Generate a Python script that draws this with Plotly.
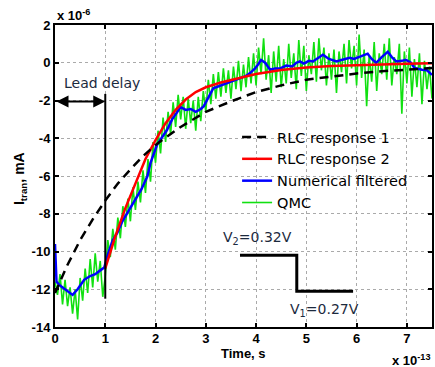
import plotly.graph_objects as go

# ---- data (time in units of 1e-13 s, current in units of 1e-6 mA) ----
rlc1_t = [0.0, 0.25, 0.5, 0.75, 1.0, 1.25, 1.5, 1.75, 2.0, 2.5, 3.0, 3.5, 4.0, 4.5, 5.0, 5.5, 6.0, 6.5, 7.0, 7.5]
rlc1_v = [-12.2, -10.7, -9.4, -8.3, -7.3, -6.4, -5.65, -4.95, -4.35, -3.4, -2.6, -2.05, -1.55, -1.2, -0.9, -0.72, -0.57, -0.45, -0.36, -0.28]

rlc2_t = [1.0, 1.2, 1.4, 1.6, 1.8, 2.0, 2.2, 2.4, 2.6, 2.8, 3.0, 3.3, 3.6, 4.0, 4.5, 5.0, 5.5, 6.0, 6.5, 7.0, 7.5]
rlc2_v = [-10.9, -9.2, -7.7, -6.4, -5.1, -4.1, -3.2, -2.5, -1.95, -1.55, -1.3, -1.05, -0.85, -0.6, -0.38, -0.25, -0.17, -0.12, -0.08, -0.05, -0.03]

num_t = [0.0, 0.03, 0.1, 0.2, 0.35, 0.45, 0.58, 0.7, 0.8, 0.9, 0.98, 1.07, 1.15, 1.24, 1.34, 1.44, 1.54, 1.64, 1.72, 1.84,
         1.9, 2.03, 2.13, 2.23, 2.33, 2.43, 2.5, 2.6, 2.7, 2.8, 2.9, 2.96, 3.02, 3.1, 3.15, 3.25, 3.42, 3.55, 3.68, 3.8,
         3.88, 3.98, 4.05, 4.1, 4.18, 4.28, 4.38, 4.48, 4.6, 4.72, 4.8, 4.87, 4.95, 5.05, 5.13, 5.2, 5.33, 5.45, 5.6, 5.7,
         5.86, 5.95, 6.05, 6.22, 6.3, 6.39, 6.5, 6.62, 6.7, 6.79, 6.9, 6.98, 7.08, 7.15, 7.3, 7.4, 7.5]
num_v = [-9.6, -11.6, -11.8, -12.0, -12.3, -12.0, -11.5, -11.3, -11.2, -11.0, -10.85, -10.0, -9.4, -9.0, -8.4, -7.95, -7.5, -7.1, -6.7, -6.0,
         -5.3, -4.35, -3.95, -3.55, -3.0, -2.58, -2.35, -2.5, -2.45, -2.6, -2.45, -2.3, -1.96, -1.6, -1.35, -1.25, -1.07, -0.95, -0.8, -0.7,
         -0.55, -0.3, -0.05, 0.15, 0.0, -0.37, -0.3, -0.3, -0.15, -0.2, 0.0, 0.07, -0.05, 0.1, 0.07, 0.2, 0.42, 0.2, 0.07, 0.15,
         0.26, 0.2, 0.3, 0.48, 0.2, 0.0, 0.3, 0.58, 0.3, 0.07, 0.1, 0.16, 0.0, -0.27, -0.37, -0.4, -0.64]

qmc_v = [-11.6, -12.3, -11.2, -12.8, -11.5, -12.9, -11.9, -13.3, -12.0, -13.6,
         -11.4, -12.6, -10.9, -12.2, -10.4, -11.9, -10.1, -11.6, -10.5, -12.4,
         -11.3, -9.4, -10.3, -8.8, -9.9, -8.2, -9.3, -7.6, -8.7, -7.2,
         -8.4, -6.6, -7.8, -6.3, -7.4, -5.7, -6.9, -5.1, -6.3, -4.2,
         -5.3, -3.6, -4.8, -2.9, -4.2, -2.6, -3.8, -2.1, -3.4, -1.7,
         -3.0, -1.8, -3.5, -1.9, -3.2, -2.0, -3.6, -1.8, -3.1, -1.5,
         -2.6, -0.9, -2.2, -0.6, -1.9, -0.5, -1.8, -0.3, -1.6, -0.4,
         -1.9, -0.2, -1.4, 0.1, -1.5, -0.1, -1.3, 0.3, -1.1, 0.5,
         -1.2, 0.8, -0.6, 1.3, -0.9, 0.4, -1.6, 0.6, -1.0, 0.9,
         -1.3, 0.2, -1.1, 1.0, -0.8, 0.5, -1.4, 1.2, -0.7, 0.9,
         -1.5, 0.4, -0.6, 1.1, -1.0, 1.3, -0.4, 0.8, -1.2, 0.5,
         -0.9, 0.7, -1.6, 0.6, -0.5, 1.0, -1.1, 1.2, -0.3, 0.9,
         -1.2, 1.5, -0.8, 0.7, -2.3, 0.4, -1.0, 1.1, -1.5, 0.5,
         -0.6, 1.0, -0.9, 1.3, -1.2, 0.3, -0.6, 1.0, -2.7, 0.6,
         -1.1, 0.8, -1.8, 0.2, -1.3, 0.5, -2.2, 0.1, -1.4, -0.2,
         -1.9]
qmc_step = 0.05
qmc_t = [round(i * qmc_step, 2) for i in range(len(qmc_v))]

delay_line_t = [1.0, 1.0]
delay_line_v = [-1.65, -12.5]
step_t = [3.68, 4.81, 4.81, 5.93]
step_v = [-10.2, -10.2, -12.1, -12.1]

x_ticks = [0, 1, 2, 3, 4, 5, 6, 7]
y_ticks = [-14, -12, -10, -8, -6, -4, -2, 0, 2]

BOLD = dict(family="Liberation Sans, Arial", size=13, color="black", weight="bold")
TXT = dict(family="DejaVu Sans", size=14, color="#1c2a3e")

fig = go.Figure()
fig.add_trace(go.Scatter(x=qmc_t, y=qmc_v, mode="lines", name="QMC",
                         line=dict(color="#11e011", width=1.6)))
fig.add_trace(go.Scatter(x=num_t, y=num_v, mode="lines", name="Numerical filtered",
                         line=dict(color="#0000ff", width=2.5)))
fig.add_trace(go.Scatter(x=rlc2_t, y=rlc2_v, mode="lines", name="RLC response 2",
                         line=dict(color="#ff0000", width=2.5)))
fig.add_trace(go.Scatter(x=rlc1_t, y=rlc1_v, mode="lines", name="RLC response 1",
                         line=dict(color="black", width=2.5, dash="9px,6px")))
fig.add_trace(go.Scatter(x=delay_line_t, y=delay_line_v, mode="lines", showlegend=False,
                         line=dict(color="black", width=2)))
fig.add_trace(go.Scatter(x=step_t, y=step_v, mode="lines", showlegend=False,
                         line=dict(color="black", width=3)))

axis_common = dict(showline=True, linewidth=2, linecolor="black", mirror="ticks",
                   ticks="inside", ticklen=4, tickwidth=1.5, tickcolor="black",
                   showgrid=True, gridcolor="#aaaaaa", griddash="dot", gridwidth=1,
                   zeroline=False, tickfont=BOLD, automargin=False)

fig.update_layout(
    width=435, height=367,
    margin=dict(l=55, r=3, t=25, b=40, autoexpand=False),
    paper_bgcolor="white", plot_bgcolor="white",
    xaxis=dict(range=[0, 7.5], tickvals=x_ticks, ticktext=[str(v) for v in x_ticks],
               ticklabelstandoff=-2, **axis_common),
    yaxis=dict(range=[-14, 2], tickvals=y_ticks, ticktext=[str(v) for v in y_ticks], **axis_common),
    legend=dict(x=0.483, y=0.682, xanchor="left", yanchor="top", traceorder="reversed",
                bgcolor="rgba(0,0,0,0)", font=dict(family="DejaVu Sans", size=14.5, color="black")),
    showlegend=True,
)

fig.add_annotation(text="I<sub>tran</sub>, mA", xref="paper", yref="paper", x=-0.093, y=0.493,
                   xanchor="center", yanchor="middle",
                   textangle=-90, showarrow=False, font=dict(family="Liberation Sans, Arial", size=14, color="black", weight="bold"))
fig.add_annotation(text="Time, s", xref="paper", yref="paper", x=0.501, y=-0.088,
                   xanchor="center", yanchor="middle",
                   showarrow=False, font=dict(family="Liberation Sans, Arial", size=13, color="black", weight="bold"))
fig.add_annotation(text="x 10<sup>-6</sup>", xref="paper", yref="paper", x=0.0, y=1.0,
                   xanchor="left", yanchor="bottom", showarrow=False, font=BOLD)
fig.add_annotation(text="x 10<sup>-13</sup>", xref="paper", yref="paper", x=1.0, y=-0.108,
                   xanchor="right", yanchor="middle", showarrow=False, font=BOLD)
fig.add_annotation(text="Lead delay", x=0.94, y=-1.07, showarrow=False, font=TXT)
fig.add_annotation(text="", x=1.0, y=-2.05, ax=0.0, ay=-2.05, axref="x", ayref="y",
                   showarrow=True, arrowside="end+start", arrowhead=2, arrowsize=1.2,
                   arrowwidth=2, arrowcolor="black", standoff=0, startstandoff=0)
fig.add_annotation(text="V<sub>2</sub>=0.32V", x=4.02, y=-9.27, showarrow=False, font=TXT)
fig.add_annotation(text="V<sub>1</sub>=0.27V", x=5.37, y=-13.1, showarrow=False, font=TXT)

fig.write_html("out.html", config={"displayModeBar": False},
               post_script="document.body.style.margin='0';document.body.style.overflow='hidden';")
